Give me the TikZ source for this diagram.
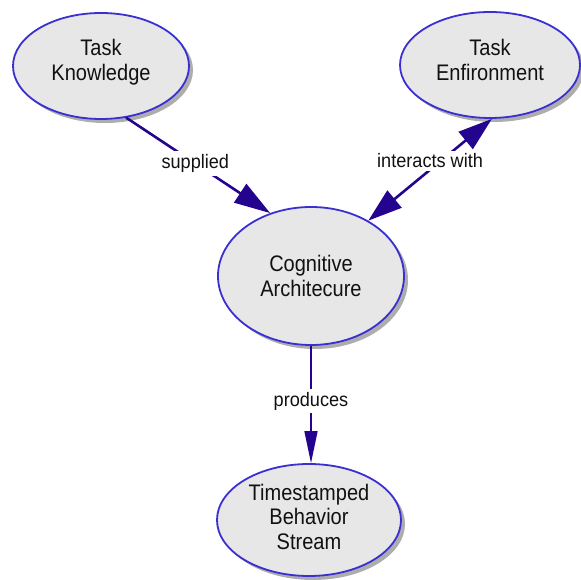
\documentclass[tikz,border=0pt]{standalone}
\usepackage{fontspec}
\setmainfont{Liberation Sans}
\newfontfamily\nodefont[FakeStretch=0.89]{Liberation Sans}
\newfontfamily\lblfont[FakeStretch=0.93]{Liberation Sans}
\usetikzlibrary{shapes.geometric,arrows.meta,shadows}
\definecolor{linkblue}{HTML}{24048F}
\definecolor{rimblue}{HTML}{3A2FD0}
\definecolor{nodefill}{HTML}{E7E7E7}
\definecolor{txt}{HTML}{111111}
\tikzset{
  concept/.style={ellipse, draw=rimblue, line width=1.8pt, fill=nodefill,
    inner sep=0pt, align=center, text=txt,
    font=\nodefont\fontsize{22.5}{24.5}\selectfont,
    drop shadow={shadow xshift=4pt, shadow yshift=-4pt, fill=black!40, opacity=0.8}},
  link/.style={draw=linkblue, line width=2.6pt},
  thinlink/.style={draw=linkblue, line width=1.6pt},
  lbl/.style={fill=white, text=txt, inner sep=3pt, font=\lblfont\fontsize{19.5}{21}\selectfont},
  bigtip/.style={-{Triangle[length=36pt,width=22pt]}},
  bothtip/.style={{Triangle[length=34pt,width=22pt]}-{Triangle[length=34pt,width=22pt]}},
  narrowtip/.style={-{Triangle[length=32pt,width=13pt]}}
}
\begin{document}
\begin{tikzpicture}[x=1pt,y=1pt]
\useasboundingbox (0,0) rectangle (581,580);
\node[concept, minimum width=176pt, minimum height=106pt, text depth=12pt] (tk) at (101,514) {Task\\Knowledge};
\node[concept, minimum width=180pt, minimum height=106pt, text depth=10pt] (te) at (490,515) {Task\\Enfironment};
\node[concept, minimum width=186pt, minimum height=138pt] (ca) at (311,304) {Cognitive\\Architecure};
\node[concept, minimum width=184pt, minimum height=112pt, text depth=7pt] (ts) at (309,60) {Timestamped\\Behavior\\Stream};
\draw[link, bigtip] (tk.-64) -- node[lbl, pos=0.48] (l1) {supplied} (ca.123);
\draw[link, bothtip] (ca.44) -- node[lbl, pos=0.5, yshift=9pt] (l2) {interacts with} (te.-88);
\draw[thinlink, narrowtip] (ca.south) -- node[lbl, pos=0.47] (l3) {produces} (ca.south |- ts.north);
\end{tikzpicture}
\end{document}
